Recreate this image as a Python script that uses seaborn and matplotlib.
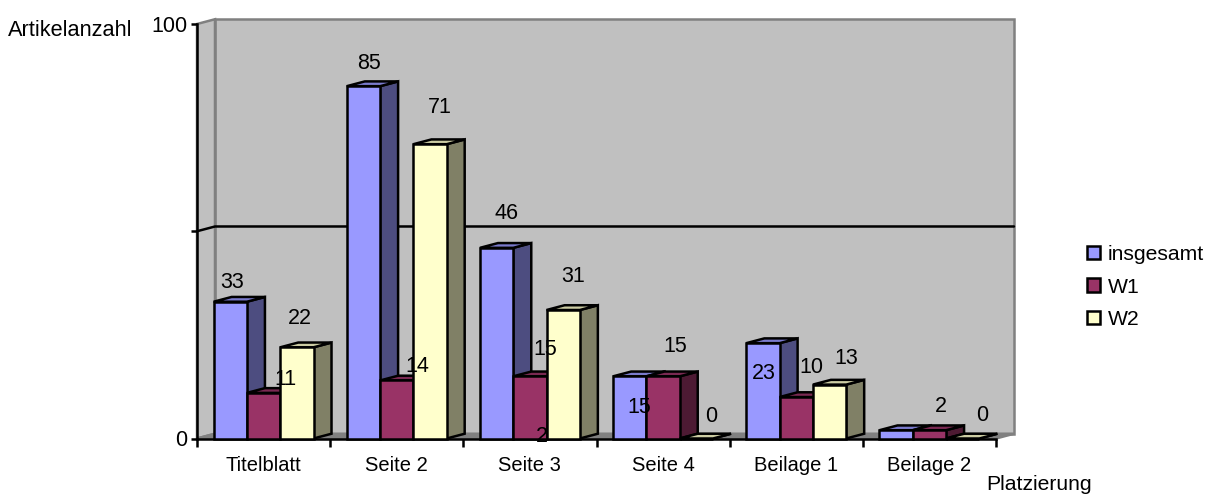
import matplotlib
matplotlib.use("Agg")
import matplotlib.pyplot as plt
from matplotlib.patches import Polygon
import pandas as pd
import seaborn as sns

# Data
placements = ["Titelblatt", "Seite 2", "Seite 3", "Seite 4", "Beilage 1", "Beilage 2"]
series_names = ["insgesamt", "W1", "W2"]
insgesamt = [33, 85, 46, 15, 23, 2]
w1 = [11, 14, 15, 15, 10, 2]
w2 = [22, 71, 31, 0, 13, 0]

# Label displacement from the top-centre of each bar, in pixels (right, down)
shift_insgesamt = [(2, -19), (6, -23), (10, -34), (9, 31), (1, 30), (-354, 6)]
shift_w1 = [(22, -13), (21, -14), (15, -27), (12, -30), (15, -30), (11, -24)]
shift_w2 = [(3, -29), (10, -37), (10, -34), (15, -22), (17, -26), (19, -23)]

front_colors = ["#9999FF", "#993366", "#FFFFCC"]
side_colors = ["#4D4D80", "#4D1A33", "#808066"]
top_colors = ["#7A7ACC", "#7A2952", "#CCCCA3"]

sns.set_theme(style="white")
plt.rcParams["font.family"] = ["Liberation Sans", "DejaVu Sans"]
plt.rcParams["text.color"] = "black"

W, H = 1215, 495
fig = plt.figure(figsize=(W / 100, H / 100), dpi=100, facecolor="white")
x0, x1, y0, y100 = 197, 996, 438.5, 24
ax = fig.add_axes([x0 / W, (H - y0) / H, (x1 - x0) / W, (y0 - y100) / H])
ax.patch.set_visible(False)

frame = pd.DataFrame({
    "Platzierung": placements * 3,
    "Serie": [n for n in series_names for _ in placements],
    "Artikelanzahl": insgesamt + w1 + w2,
})
LW = 1.8
sns.barplot(data=frame, x="Platzierung", y="Artikelanzahl", hue="Serie",
            order=placements, hue_order=series_names, palette=front_colors,
            saturation=1, width=0.75, gap=0, edgecolor="black", linewidth=LW,
            ax=ax, legend=False)
ax.set_xlim(-0.5, 5.5)
ax.set_ylim(0, 100)

# Depth of the pseudo-3D projection, in data units
dx, dy = 18 / 133.2, 1.15

# Chart box: back wall, side wall, floor and the gridline at 50
wall_kw = dict(facecolor="#C0C0C0", edgecolor="#808080", linewidth=LW, clip_on=False, zorder=0.5)
ax.add_patch(Polygon([(-0.5 + dx, dy), (5.5 + dx, dy), (5.5 + dx, 100 + dy), (-0.5 + dx, 100 + dy)], **wall_kw))
ax.add_patch(Polygon([(-0.5, 0), (-0.5 + dx, dy), (-0.5 + dx, 100 + dy), (-0.5, 100)], **wall_kw))
ax.add_patch(Polygon([(-0.5, 0), (5.5, 0), (5.5 + dx, dy), (-0.5 + dx, dy)],
                     facecolor="#808080", edgecolor="#808080", linewidth=LW, clip_on=False, zorder=0.6))
ax.plot([-0.5, -0.5 + dx, 5.5 + dx], [50, 50 + dy, 50 + dy], color="black", lw=LW,
        clip_on=False, zorder=0.7, solid_joinstyle="miter")

# Side and top faces follow each bar; bars further right overlap those to their left
shifts = [shift_insgesamt, shift_w1, shift_w2]
for s, container in enumerate(ax.containers):
    for c, bar in enumerate(container):
        left, w, h = bar.get_x(), bar.get_width(), bar.get_height()
        right = left + w
        z = 3 + c * 3 + s * 0.1 + 0.01
        bar.set_zorder(z + 0.02)
        bar.set_clip_on(False)
        bar.set_joinstyle("miter")
        ax.add_patch(Polygon([(right, 0), (right + dx, dy), (right + dx, h + dy), (right, h)],
                             facecolor=side_colors[s], edgecolor="black", linewidth=LW,
                             clip_on=False, zorder=z))
        ax.add_patch(Polygon([(left, h), (right, h), (right + dx, h + dy), (left + dx, h + dy)],
                             facecolor=top_colors[s], edgecolor="black", linewidth=LW,
                             clip_on=False, zorder=z))
        sx, sy = shifts[s][c]
        ax.annotate(f"{h:.0f}", (left + w / 2, h), xytext=(sx * 0.72, -sy * 0.72),
                    textcoords="offset points", ha="center", va="center",
                    fontsize=15.5, color="black", zorder=50, annotation_clip=False)

# Axes
for side in ("top", "right"):
    ax.spines[side].set_visible(False)
for side in ("left", "bottom"):
    ax.spines[side].set_color("black")
    ax.spines[side].set_linewidth(LW)
ax.set_yticks([0, 50, 100], ["0", "", "100"])
ax.tick_params(axis="y", length=4.3, width=LW, color="black", pad=2.5, labelsize=15.5,
               labelcolor="black", left=True)
ax.set_xticks(range(len(placements)), placements)
ax.tick_params(axis="x", which="major", length=0, pad=12.5, labelsize=14.5, labelcolor="black")
ax.set_xticks([i - 0.5 for i in range(len(placements) + 1)], minor=True)
ax.tick_params(axis="x", which="minor", length=5.5, width=LW, color="black", bottom=True)

ax.set_ylabel("Artikelanzahl", rotation=0, fontsize=15.7, ha="center", va="center", color="black")
ax.yaxis.set_label_coords(70.5 / W, (H - 30) / H, transform=fig.transFigure)
ax.set_xlabel("Platzierung", fontsize=15.2, ha="center", va="center", color="black")
ax.xaxis.set_label_coords(1039 / W, (H - 485) / H, transform=fig.transFigure)

# Legend
handles = [c[0] for c in ax.containers]
leg = fig.legend(handles, series_names, loc="upper left",
                 bbox_to_anchor=(1087 / W, (H - 245) / H), frameon=False,
                 fontsize=15.2, handlelength=0.6, handleheight=0.6,
                 handletextpad=0.4, labelspacing=0.64, borderpad=0, borderaxespad=0)

fig.savefig("out.png", dpi=100)
